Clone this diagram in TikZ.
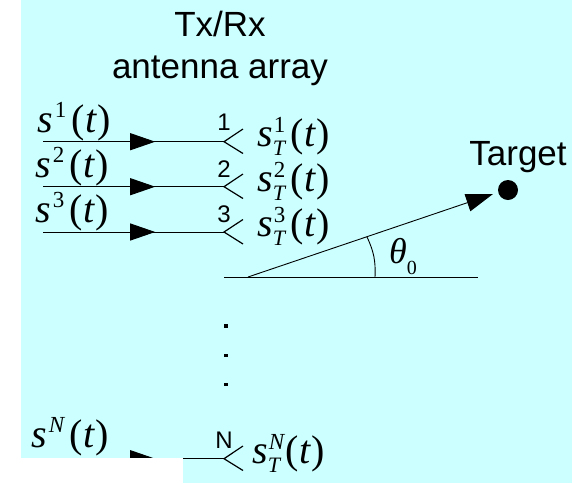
\documentclass[tikz,border=0pt]{standalone}
\usepackage{fontspec}
\setmainfont{Liberation Sans}
\newfontfamily\serif{Liberation Serif}
\usetikzlibrary{arrows.meta,positioning,decorations.markings}
\definecolor{panel}{HTML}{CCFFFF}
\newcommand{\sigin}[1]{{\serif\itshape s}\kern2pt\raisebox{15pt}{\fontsize{23}{23}\serif #1}\kern5pt{\serif(\kern1pt\itshape t\kern1pt\upshape)}}
\newcommand{\sigout}[1]{{\serif\itshape s}\rlap{\kern1pt\raisebox{14pt}{\fontsize{23}{23}\serif #1}}\raisebox{-9pt}{\fontsize{22}{22}\serif\itshape T}\kern5pt{\serif(\kern1pt\itshape t\kern1pt\upshape)}}
\tikzset{
  every node/.style={inner sep=0pt,text=black},
  title/.style={font=\fontsize{35}{42}\selectfont,align=center},
  target/.style={font=\fontsize{35}{35}\selectfont,anchor=base},
  feedlabel/.style={font=\fontsize{40}{40}\selectfont,anchor=base west},
  portlabel/.style={font=\fontsize{24}{24}\selectfont,anchor=base},
  feed/.style={line width=0.9pt,postaction={decorate},decoration={markings,mark=at position 0.62 with {\arrow{Triangle[length=25pt,width=17pt]}}}},
  element/.style={line width=1.2pt},
  baseline/.style={line width=0.9pt},
  ray/.style={line width=0.9pt,-{Triangle[length=27pt,width=18pt]}},
  dot/.style={rectangle,fill=black,minimum size=3.3pt},
  targetdot/.style={circle,fill=black,minimum size=20pt},
}
\begin{document}
\begin{tikzpicture}[x=1pt,y=-1pt]
\useasboundingbox (0,0) rectangle (584,483);
\fill[panel] (21,0) rectangle (572,483);
% array feeds
\coordinate (in1) at (43,141.7);
\coordinate (in2) at (43,186.7);
\coordinate (in3) at (43,232);
\coordinate (inN) at (43,458.7);
\coordinate (ant1) at (224,141.7);
\coordinate (ant2) at (224,186.7);
\coordinate (ant3) at (224,232);
\coordinate (antN) at (224,458.7);
\draw[feed] (in1) -- (ant1);
\draw[feed] (in2) -- (ant2);
\draw[feed] (in3) -- (ant3);
\draw[feed] (inN) -- (antN);
\fill[white] (0,457.5) rectangle (183,483);
\draw[element] (243,129) -- (ant1) -- (243,153.5);
\draw[element] (243,174) -- (ant2) -- (243,198.5);
\draw[element] (243,219.5) -- (ant3) -- (243,244);
\draw[element] (243,446) -- (antN) -- (243,470.5);
% labels
\node[title,anchor=base] (array) at (220,78) {Tx/Rx\\antenna array};
\node[feedlabel] (s1) at (37,132) {\sigin{1}};
\node[feedlabel] (s2) at (35,177) {\sigin{2}};
\node[feedlabel] (s3) at (35,222) {\sigin{3}};
\node[feedlabel] (sN) at (31,447) {\sigin{\itshape N}};
\node[portlabel] (p1) at (224,130) {1};
\node[portlabel] (p2) at (224,177) {2};
\node[portlabel] (p3) at (224,222) {3};
\node[portlabel] (pN) at (224,448) {N};
\node[feedlabel] (t1) at (257,146) {\sigout{1}};
\node[feedlabel] (t2) at (257,191) {\sigout{2}};
\node[feedlabel] (t3) at (257,236) {\sigout{3}};
\node[feedlabel] (tN) at (252,463) {\sigout{\itshape N}};
% dots between elements
\node[dot] (d1) at (226,326) {};
\node[dot] (d2) at (226,355.7) {};
\node[dot] (d3) at (226,384.7) {};
% angle
\coordinate (origin) at (248,277);
\coordinate (left) at (224,277);
\coordinate (right) at (478,277);
\coordinate (onray) at (367,237);
\coordinate (onbase) at (375,277);
\node[targetdot] (tgt) at (508,190) {};
\node[target] (tgtname) at (518,165) {Target};
\draw[baseline] (left) -- (right);
\draw[ray] (origin) -- (493,194);
\draw[baseline] (onray) to[bend left=14] (onbase);
\node[feedlabel,font=\fontsize{36}{36}\selectfont] (angle) at (389,263) {{\serif\itshape θ}\raisebox{-11pt}{\fontsize{20}{20}\serif 0}};
\end{tikzpicture}
\end{document}
